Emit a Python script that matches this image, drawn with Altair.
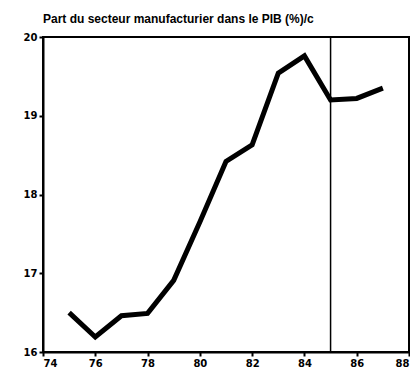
import altair as alt
import pandas as pd

years = [75, 76, 77, 78, 79, 80, 81, 82, 83, 84, 85, 86, 87]
share = [16.5, 16.19, 16.46, 16.49, 16.91, 17.65, 18.42, 18.63, 19.54, 19.76, 19.2, 19.22, 19.35]
x_ticks = [74, 76, 78, 80, 82, 84, 86, 88]
y_ticks = [16, 17, 18, 19, 20]
split_year = [85]

df = pd.DataFrame({"year": years, "share": share})
rule_df = pd.DataFrame({"year": split_year})

x_scale = alt.Scale(domain=[74, 88], nice=False, zero=False)
y_scale = alt.Scale(domain=[16, 20], nice=False, zero=False)

line = alt.Chart(df).mark_line(color="black", strokeWidth=5, strokeJoin="miter").encode(
    x=alt.X("year:Q", scale=x_scale,
            axis=alt.Axis(values=x_ticks, title=None, grid=False, format="d")),
    y=alt.Y("share:Q", scale=y_scale,
            axis=alt.Axis(values=y_ticks, title=None, grid=False, format="d")),
)

rule = alt.Chart(rule_df).mark_rule(color="black", strokeWidth=1.5).encode(
    x=alt.X("year:Q", scale=x_scale)
)

chart = (line + rule).properties(
    width=366,
    height=315,
    title=alt.Title("Part du secteur manufacturier dans le PIB (%)/c",
                    anchor="start", frame="group", fontSize=12, font="Liberation Sans",
                    fontWeight="bold", color="black", offset=6),
    autosize=alt.AutoSizeParams(type="none"),
    padding={"left": 35, "top": 29, "right": 1, "bottom": 20},
).configure_view(
    stroke="black", strokeWidth=2
).configure_axis(
    domainColor="black", domainWidth=2, tickColor="black", tickWidth=2, tickSize=4,
    labelFont="DejaVu Sans", labelFontWeight="bold", labelFontSize=10, labelColor="black",
    labelPadding=2
)

chart.save("out.html", embed_options={"renderer": "svg", "actions": False})
